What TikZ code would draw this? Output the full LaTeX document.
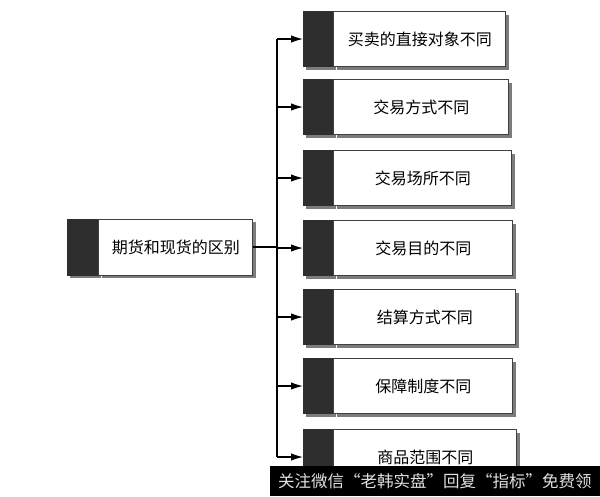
\documentclass[tikz,border=0pt]{standalone}
\usepackage{fontspec}
\newfontfamily\cjk{Noto Sans CJK SC}
\usetikzlibrary{arrows.meta,shadows}
\definecolor{blockgray}{HTML}{2E2E2E}
\definecolor{shadegray}{HTML}{7C7C7C}
\tikzset{
  tag/.style={draw=blockgray,fill=blockgray,minimum width=30pt,minimum height=55pt,
    inner sep=0pt,anchor=west,
    drop shadow={shadow xshift=3pt,shadow yshift=-3pt,fill=shadegray,opacity=1}},
  card/.style={draw=black!75,line width=0.8pt,fill=white,minimum height=55pt,
    inner sep=0pt,anchor=west,font=\cjk\fontsize{16}{18}\selectfont,
    drop shadow={shadow xshift=3pt,shadow yshift=-3pt,fill=shadegray,opacity=1}},
  link/.style={line width=1.3pt,-{Latex[length=12pt,width=7.5pt]}},
}
\begin{document}
\begin{tikzpicture}[x=1pt,y=-1pt]
  \useasboundingbox[fill=white] (0,0) rectangle (600,496);
  % source box
  \node[tag,minimum width=31pt,minimum height=56pt] (srck) at (67,247) {};
  \node[card,minimum width=154pt,minimum height=56pt] (src) at (srck.east) {期货和现货的区别};
  % difference boxes
  \node[tag] (k1) at (303,39) {};
  \node[card,minimum width=172pt] (d1) at (k1.east) {买卖的直接对象不同};
  \node[tag] (k2) at (303,107) {};
  \node[card,minimum width=175pt] (d2) at (k2.east) {交易方式不同};
  \node[tag] (k3) at (303,178) {};
  \node[card,minimum width=178pt] (d3) at (k3.east) {交易场所不同};
  \node[tag] (k4) at (303,248) {};
  \node[card,minimum width=179pt] (d4) at (k4.east) {交易目的不同};
  \node[tag] (k5) at (303,317) {};
  \node[card,minimum width=182pt] (d5) at (k5.east) {结算方式不同};
  \node[tag] (k6) at (303,386) {};
  \node[card,minimum width=179pt] (d6) at (k6.east) {保障制度不同};
  \node[tag] (k7) at (303,457) {};
  \node[card,minimum width=183pt] (d7) at (k7.east) {商品范围不同};
  % trunk
  \coordinate (top) at (277,39);
  \coordinate (bot) at (277,457);
  \draw[line width=1.3pt] (top) -- (bot);
  \draw[line width=1.3pt] (src.east) -- (src.east -| top);
  % arrows
  \draw[link] (top |- k1.west) -- (k1.west);
  \draw[link] (top |- k2.west) -- (k2.west);
  \draw[link] (top |- k3.west) -- (k3.west);
  \draw[link] (top |- k4.west) -- (k4.west);
  \draw[link] (top |- k5.west) -- (k5.west);
  \draw[link] (top |- k6.west) -- (k6.west);
  \draw[link] (top |- k7.west) -- (k7.west);
  % watermark band
  \node[fill=black,text=black!12,minimum width=330pt,minimum height=30pt,inner sep=0pt,
    anchor=south east,font=\cjk\fontsize{16.5}{18}\selectfont] (note) at (600,496)
    {关注微信“老韩实盘”回复“指标”免费领};
\end{tikzpicture}
\end{document}
